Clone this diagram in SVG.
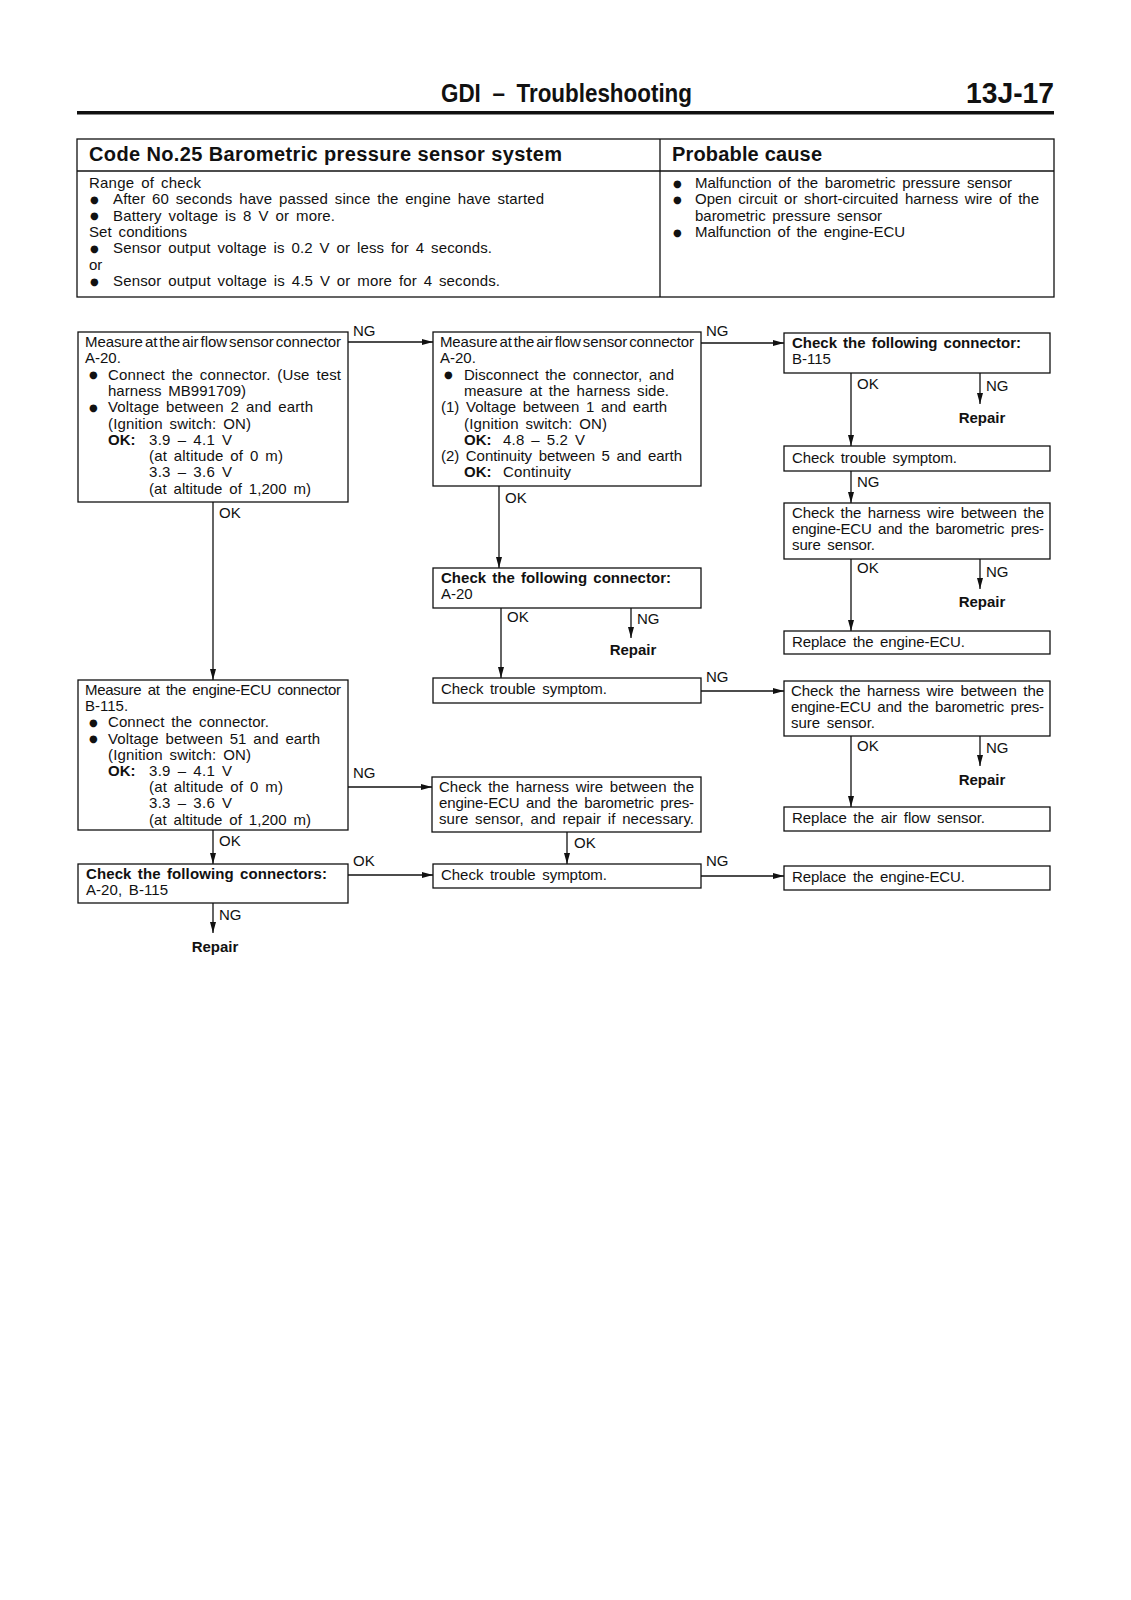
<svg xmlns="http://www.w3.org/2000/svg" width="1131" height="1600" viewBox="0 0 1131 1600">
<defs>
<marker id="ah" viewBox="0 0 11 6" refX="11" refY="3" markerWidth="11" markerHeight="6" markerUnits="userSpaceOnUse" orient="auto"><path d="M0,0 L11,3 L0,6 z" fill="#111"/></marker>
<style>
text{font-family:"Liberation Sans",Arial,sans-serif;fill:#111}
.t{font-size:15px;word-spacing:2.5px}
.b{font-size:15px;font-weight:bold;word-spacing:2px}
.bu{font-family:"DejaVu Sans",sans-serif;font-size:10px;transform:translate(0px,-1.5px)}
.hd{font-size:20px;font-weight:bold}
.box{fill:#fff;stroke:#111;stroke-width:1.3}
.ln{fill:none;stroke:#111;stroke-width:1.3}
.c{fill:none;stroke:#111;stroke-width:1.3;marker-end:url(#ah)}
.lb{font-size:15px}
.rp{font-size:15px;font-weight:bold;text-anchor:middle}
</style>
</defs>
<rect width="1131" height="1600" fill="#fff"/>

<g id="page-header">
<text x="441" y="102" style="font-size:25px;font-weight:bold;word-spacing:6px" textLength="251" lengthAdjust="spacingAndGlyphs">GDI – Troubleshooting</text>
<text x="966" y="103" style="font-size:30px;font-weight:bold" textLength="88" lengthAdjust="spacingAndGlyphs">13J-17</text>
<rect x="77" y="111" width="977" height="3.5" fill="#111"/>
</g>

<g id="info-table">
<rect x="77" y="139" width="977" height="158" class="ln"/>
<line x1="660" y1="139" x2="660" y2="297" class="ln"/>
<line x1="77" y1="171" x2="1054" y2="171" class="ln"/>
<text x="89" y="161" class="hd" textLength="473">Code No.25 Barometric pressure sensor system</text>
<text x="672" y="161" class="hd" textLength="150">Probable cause</text>
<text x="89" y="188" class="t" textLength="112">Range of check</text>
<text x="90" y="204" class="bu">●</text><text x="113" y="204" class="t" textLength="431">After 60 seconds have passed since the engine have started</text>
<text x="90" y="220.5" class="bu">●</text><text x="113" y="220.5" class="t" textLength="222">Battery voltage is 8 V or more.</text>
<text x="89" y="237" class="t" textLength="98">Set conditions</text>
<text x="90" y="253" class="bu">●</text><text x="113" y="253" class="t" textLength="379">Sensor output voltage is 0.2 V or less for 4 seconds.</text>
<text x="89" y="269.5" class="t">or</text>
<text x="90" y="286" class="bu">●</text><text x="113" y="286" class="t" textLength="387">Sensor output voltage is 4.5 V or more for 4 seconds.</text>
<text x="673" y="188" class="bu">●</text><text x="695" y="188" class="t" textLength="317">Malfunction of the barometric pressure sensor</text>
<text x="673" y="204" class="bu">●</text><text x="695" y="204" class="t" textLength="344">Open circuit or short-circuited harness wire of the</text>
<text x="695" y="220.5" class="t" textLength="187">barometric pressure sensor</text>
<text x="673" y="237" class="bu">●</text><text x="695" y="237" class="t" textLength="210">Malfunction of the engine-ECU</text>
</g>

<g id="connectors">
<path class="c" d="M348,342 H433"/>
<path class="c" d="M701,343 H784"/>
<path class="c" d="M213,502 V680"/>
<path class="c" d="M499,486 V568"/>
<path class="c" d="M851,373 V446"/>
<path class="c" d="M980,373 V404"/>
<path class="c" d="M851,471 V503"/>
<path class="c" d="M851,559 V631"/>
<path class="c" d="M980,559 V589"/>
<path class="c" d="M501,608 V678"/>
<path class="c" d="M631,608 V638"/>
<path class="c" d="M701,691 H784"/>
<path class="c" d="M851,736 V807"/>
<path class="c" d="M980,736 V766"/>
<path class="c" d="M348,787 H432"/>
<path class="c" d="M213,830 V864"/>
<path class="c" d="M348,875 H433"/>
<path class="c" d="M567,832 V864"/>
<path class="c" d="M701,876 H784"/>
<path class="c" d="M213,903 V933"/>
<text x="353" y="336" class="lb">NG</text>
<text x="706" y="336" class="lb">NG</text>
<text x="219" y="518" class="lb">OK</text>
<text x="505" y="503" class="lb">OK</text>
<text x="857" y="389" class="lb">OK</text>
<text x="986" y="391" class="lb">NG</text>
<text x="982" y="423" class="rp">Repair</text>
<text x="857" y="487" class="lb">NG</text>
<text x="857" y="573" class="lb">OK</text>
<text x="986" y="577" class="lb">NG</text>
<text x="982" y="607" class="rp">Repair</text>
<text x="507" y="622" class="lb">OK</text>
<text x="637" y="624" class="lb">NG</text>
<text x="633" y="655" class="rp">Repair</text>
<text x="706" y="682" class="lb">NG</text>
<text x="857" y="751" class="lb">OK</text>
<text x="986" y="753" class="lb">NG</text>
<text x="982" y="785" class="rp">Repair</text>
<text x="353" y="778" class="lb">NG</text>
<text x="219" y="846" class="lb">OK</text>
<text x="353" y="866" class="lb">OK</text>
<text x="574" y="848" class="lb">OK</text>
<text x="706" y="866" class="lb">NG</text>
<text x="219" y="920" class="lb">NG</text>
<text x="215" y="952" class="rp">Repair</text>
</g>

<g id="node-a">
<rect class="box" x="78" y="332" width="270" height="170"/>
<text x="85" y="347" class="t" style="word-spacing:-2px" textLength="256">Measure at the air flow sensor connector</text>
<text x="85" y="363.3" class="t">A-20.</text>
<text x="89" y="379.6" class="bu">●</text><text x="108" y="379.6" class="t" textLength="233">Connect the connector. (Use test</text>
<text x="108" y="395.9" class="t" textLength="138">harness MB991709)</text>
<text x="89" y="412.2" class="bu">●</text><text x="108" y="412.2" class="t" textLength="205">Voltage between 2 and earth</text>
<text x="108" y="428.5" class="t" textLength="143">(Ignition switch: ON)</text>
<text x="108" y="444.8" class="b">OK:</text><text x="149" y="444.8" class="t" textLength="83">3.9 – 4.1 V</text>
<text x="149" y="461.1" class="t" textLength="134">(at altitude of 0 m)</text>
<text x="149" y="477.4" class="t" textLength="83">3.3 – 3.6 V</text>
<text x="149" y="493.7" class="t" textLength="162">(at altitude of 1,200 m)</text>
</g>

<g id="node-b">
<rect class="box" x="433" y="332" width="268" height="154"/>
<text x="440" y="347" class="t" style="word-spacing:-2px" textLength="254">Measure at the air flow sensor connector</text>
<text x="440" y="363.3" class="t">A-20.</text>
<text x="444" y="379.6" class="bu">●</text><text x="464" y="379.6" class="t" textLength="210">Disconnect the connector, and</text>
<text x="464" y="395.9" class="t" textLength="205">measure at the harness side.</text>
<text x="441" y="412.2" class="t" textLength="226">(1) Voltage between 1 and earth</text>
<text x="464" y="428.5" class="t" textLength="143">(Ignition switch: ON)</text>
<text x="464" y="444.8" class="b">OK:</text><text x="503" y="444.8" class="t" textLength="82">4.8 – 5.2 V</text>
<text x="441" y="461.1" class="t" textLength="241">(2) Continuity between 5 and earth</text>
<text x="464" y="477.4" class="b">OK:</text><text x="503" y="477.4" class="t" textLength="68">Continuity</text>
</g>

<g id="node-c">
<rect class="box" x="784" y="333" width="266" height="40"/>
<text x="792" y="348" class="b" textLength="229">Check the following connector:</text>
<text x="792" y="364" class="t">B-115</text>
</g>

<g id="node-d">
<rect class="box" x="784" y="446" width="266" height="25"/>
<text x="792" y="463" class="t" textLength="165">Check trouble symptom.</text>
</g>

<g id="node-e">
<rect class="box" x="784" y="503" width="266" height="56"/>
<text x="792" y="518" class="t" textLength="252">Check the harness wire between the</text>
<text x="792" y="534" class="t" textLength="252">engine-ECU and the barometric pres-</text>
<text x="792" y="550" class="t" textLength="83">sure sensor.</text>
</g>

<g id="node-f">
<rect class="box" x="784" y="631" width="266" height="23"/>
<text x="792" y="647" class="t" textLength="173">Replace the engine-ECU.</text>
</g>

<g id="node-g">
<rect class="box" x="433" y="568" width="268" height="40"/>
<text x="441" y="583" class="b" textLength="230">Check the following connector:</text>
<text x="441" y="599" class="t">A-20</text>
</g>

<g id="node-h">
<rect class="box" x="433" y="678" width="268" height="25"/>
<text x="441" y="694" class="t" textLength="166">Check trouble symptom.</text>
</g>

<g id="node-i">
<rect class="box" x="784" y="681" width="266" height="55"/>
<text x="791" y="696" class="t" textLength="253">Check the harness wire between the</text>
<text x="791" y="712" class="t" textLength="253">engine-ECU and the barometric pres-</text>
<text x="791" y="728" class="t" textLength="84">sure sensor.</text>
</g>

<g id="node-j">
<rect class="box" x="784" y="807" width="266" height="24"/>
<text x="792" y="823" class="t" textLength="193">Replace the air flow sensor.</text>
</g>

<g id="node-k">
<rect class="box" x="78" y="680" width="270" height="150"/>
<text x="85" y="695" class="t" textLength="256">Measure at the engine-ECU connector</text>
<text x="85" y="711.2" class="t">B-115.</text>
<text x="89" y="727.4" class="bu">●</text><text x="108" y="727.4" class="t" textLength="161">Connect the connector.</text>
<text x="89" y="743.6" class="bu">●</text><text x="108" y="743.6" class="t" textLength="212">Voltage between 51 and earth</text>
<text x="108" y="759.8" class="t" textLength="143">(Ignition switch: ON)</text>
<text x="108" y="776" class="b">OK:</text><text x="149" y="776" class="t" textLength="83">3.9 – 4.1 V</text>
<text x="149" y="792.2" class="t" textLength="134">(at altitude of 0 m)</text>
<text x="149" y="808.4" class="t" textLength="83">3.3 – 3.6 V</text>
<text x="149" y="824.6" class="t" textLength="162">(at altitude of 1,200 m)</text>
</g>

<g id="node-l">
<rect class="box" x="432" y="777" width="269" height="55"/>
<text x="439" y="792" class="t" textLength="255">Check the harness wire between the</text>
<text x="439" y="808" class="t" textLength="255">engine-ECU and the barometric pres-</text>
<text x="439" y="824" class="t" textLength="255">sure sensor, and repair if necessary.</text>
</g>

<g id="node-m">
<rect class="box" x="78" y="864" width="270" height="39"/>
<text x="86" y="879" class="b" textLength="241">Check the following connectors:</text>
<text x="86" y="895" class="t" textLength="82">A-20, B-115</text>
</g>

<g id="node-n">
<rect class="box" x="433" y="864" width="268" height="24"/>
<text x="441" y="880" class="t" textLength="166">Check trouble symptom.</text>
</g>

<g id="node-o">
<rect class="box" x="784" y="866" width="266" height="24"/>
<text x="792" y="882" class="t" textLength="173">Replace the engine-ECU.</text>
</g>
</svg>
